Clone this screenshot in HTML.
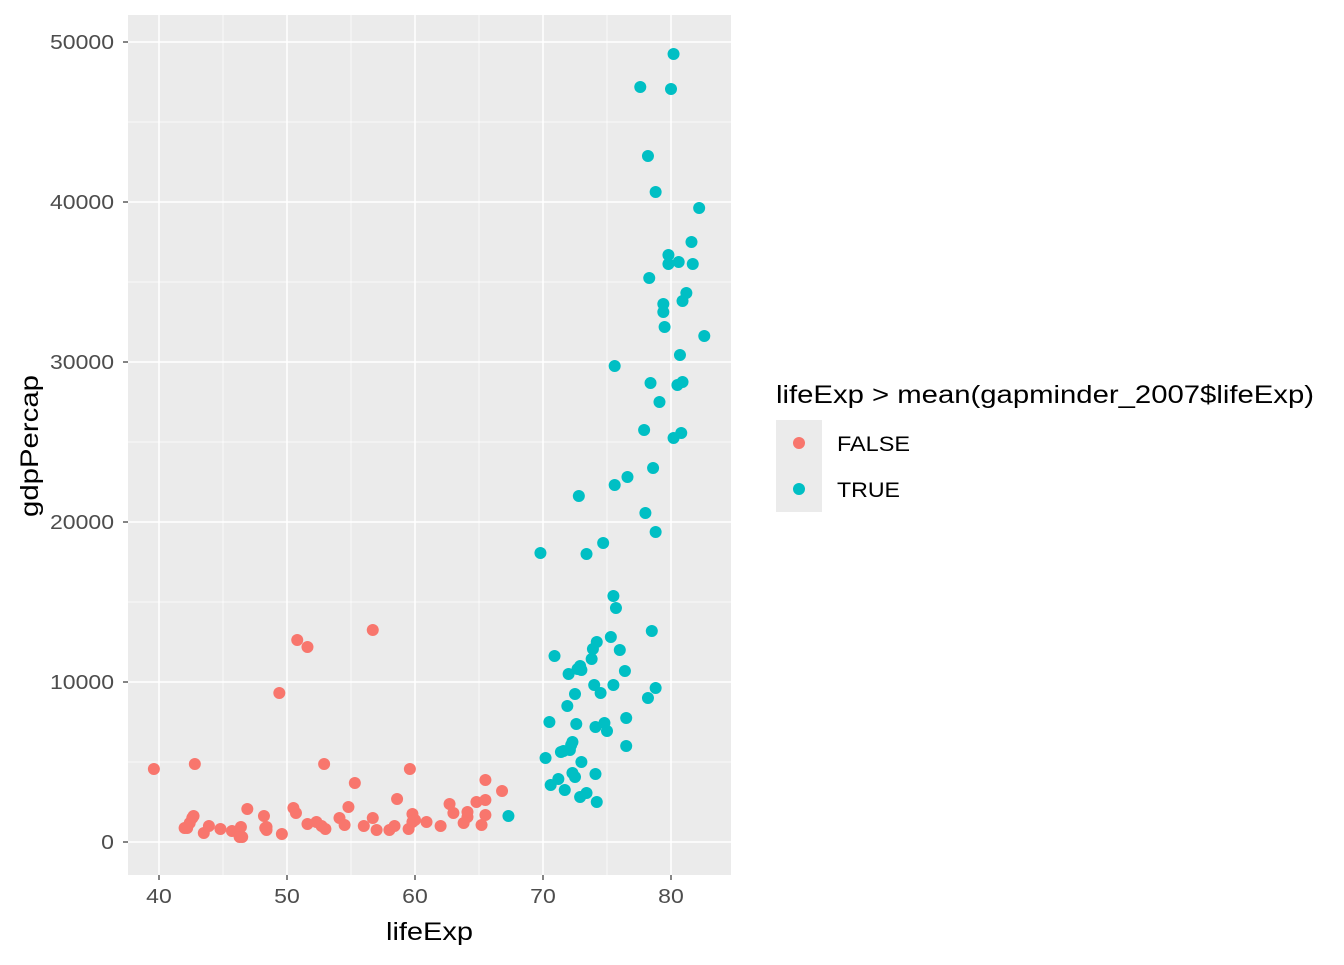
<!DOCTYPE html>
<html><head><meta charset="utf-8"><style>
body{margin:0;background:#fff;}
svg text{font-family:"Liberation Sans",Arial,sans-serif;}
</style></head><body>
<svg id="chart" width="1344" height="960" xmlns="http://www.w3.org/2000/svg"></svg>
<script>
const falseLife=[39.6,42.8,42.0,42.6,42.4,42.7,42.2,43.5,43.9,44.8,45.7,46.3,46.4,46.3,46.5,46.9,48.2,48.3,48.4,48.4,49.6,49.4,50.5,50.7,50.8,51.6,51.6,52.3,52.7,53.0,52.9,54.1,54.5,54.8,55.3,56.0,56.7,56.7,57.0,58.0,58.4,58.6,59.5,59.6,59.8,59.8,60.0,60.9,62.0,62.7,63.0,63.8,64.1,64.1,64.8,65.2,65.5,65.5,65.5,66.8];
const falseGdp=[4563,4875,875,1500,1188,1625,875,563,1000,813,688,375,938,313,313,2063,1625,875,938,750,500,9313,2125,1813,12625,1125,12188,1250,1000,813,4875,1500,1063,2188,3688,1000,13250,1500,750,750,1000,2688,813,4563,1750,1250,1375,1250,1000,2375,1813,1188,1563,1875,2500,1063,1688,2625,3875,3188];
const trueLife=[67.3,69.8,70.2,70.6,70.5,70.9,71.2,71.4,71.6,71.7,71.9,72.0,72.1,72.2,72.3,72.3,72.5,72.5,72.6,72.7,72.8,72.9,72.9,73.0,73.0,73.4,73.4,73.8,73.9,74.1,74.0,74.1,74.2,74.2,74.5,74.7,74.8,75.0,75.3,75.5,75.5,75.6,75.6,75.7,76.0,76.4,76.5,76.5,76.6,77.6,77.9,78.2,78.2,78.3,78.4,78.6,78.8,78.8,78.8,79.1,79.4,79.4,79.5,79.8,79.8,80.0,80.2,80.2,80.6,80.7,80.5,80.8,80.9,80.9,81.2,81.6,81.7,82.2,82.6,78.0,78.5];
const trueGdp=[1625,18063,5250,3563,7500,11625,3938,5625,5688,3250,8500,10500,5750,6063,6250,4313,4063,9250,7375,10813,21625,2813,11000,5000,10750,3063,18000,11438,12063,7188,9813,4250,12500,2500,9313,18688,7438,6938,12813,15375,9813,29750,22313,14625,12000,10688,7750,6000,22813,47188,25750,9000,42875,35250,28688,23375,19375,9625,40625,27500,33125,33625,32188,36688,36125,47063,49250,25250,36250,30438,28563,25563,33813,28750,34313,37500,36125,39625,31625,20563,13188];
const xTicks=[40,50,60,70,80];
const yTicks=[0,10000,20000,30000,40000,50000];
const legendLabels=["FALSE","TRUE"];

const svg=document.getElementById('chart');
const NS='http://www.w3.org/2000/svg';
const P={l:128,r:731,t:15,b:875};
function xs(v){return 159+(v-40)*12.8;}
function ys(v){return 842-v*0.016;}
function mk(tag,attrs,parent){const e=document.createElementNS(NS,tag);for(const k in attrs)e.setAttribute(k,attrs[k]);(parent||svg).appendChild(e);return e;}

const panel=mk('rect',{x:P.l,y:P.t,width:P.r-P.l,height:P.b-P.t,fill:'#EBEBEB'});


for(let i=0;i<xTicks.length-1;i++){const v=(xTicks[i]+xTicks[i+1])/2;const g=mk('line',{x1:xs(v),x2:xs(v),y1:P.t,y2:P.b,stroke:'#fff','stroke-width':0.7});

}
for(let i=0;i<yTicks.length-1;i++){const v=(yTicks[i]+yTicks[i+1])/2;const g=mk('line',{x1:P.l,x2:P.r,y1:ys(v),y2:ys(v),stroke:'#fff','stroke-width':0.7});

}
xTicks.forEach(v=>{const g=mk('line',{x1:xs(v),x2:xs(v),y1:P.t,y2:P.b,stroke:'#fff','stroke-width':1.5});


mk('line',{x1:xs(v),x2:xs(v),y1:P.b,y2:P.b+5,stroke:'#333','stroke-width':1.2});
const t=mk('text',{x:xs(v),y:P.b+28,'text-anchor':'middle','font-size':20,fill:'#4D4D4D',textLength:String(v).length*12.8,lengthAdjust:'spacingAndGlyphs'});t.textContent=v;

});
yTicks.forEach(v=>{const g=mk('line',{x1:P.l,x2:P.r,y1:ys(v),y2:ys(v),stroke:'#fff','stroke-width':1.5});


mk('line',{x1:P.l-5,x2:P.l,y1:ys(v),y2:ys(v),stroke:'#333','stroke-width':1.2});
const t=mk('text',{x:P.l-14,y:ys(v)+7,'text-anchor':'end','font-size':20,fill:'#4D4D4D',textLength:String(v).length*12.8,lengthAdjust:'spacingAndGlyphs'});t.textContent=v;

});
falseLife.forEach((v,i)=>{const c=mk('circle',{cx:xs(v),cy:ys(falseGdp[i]),r:6,fill:'#F8766D'});

});
trueLife.forEach((v,i)=>{const c=mk('circle',{cx:xs(v),cy:ys(trueGdp[i]),r:6,fill:'#00BFC4'});

});
const xt=mk('text',{x:(P.l+P.r)/2,y:940,'text-anchor':'middle','font-size':25,fill:'#000',textLength:87,lengthAdjust:'spacingAndGlyphs'});xt.textContent='lifeExp';


const yt=mk('text',{x:38,y:446,'text-anchor':'middle','font-size':25,fill:'#000',transform:'rotate(-90 38 446)',textLength:142,lengthAdjust:'spacingAndGlyphs'});yt.textContent='gdpPercap';


const lt=mk('text',{x:776,y:403,'font-size':25,fill:'#000',textLength:538,lengthAdjust:'spacingAndGlyphs'});lt.textContent='lifeExp > mean(gapminder_2007$lifeExp)';


const cols=['#F8766D','#00BFC4'];
const lw=[73,63];
legendLabels.forEach((l,i)=>{const y0=420+i*46;
const k=mk('rect',{x:776,y:y0,width:46,height:46,fill:'#EBEBEB'});


mk('circle',{cx:799,cy:y0+23,r:6,fill:cols[i]});
const t=mk('text',{x:837,y:y0+31,'font-size':21,fill:'#000',textLength:lw[i],lengthAdjust:'spacingAndGlyphs'});t.textContent=l;

});
</script>
</body></html>
